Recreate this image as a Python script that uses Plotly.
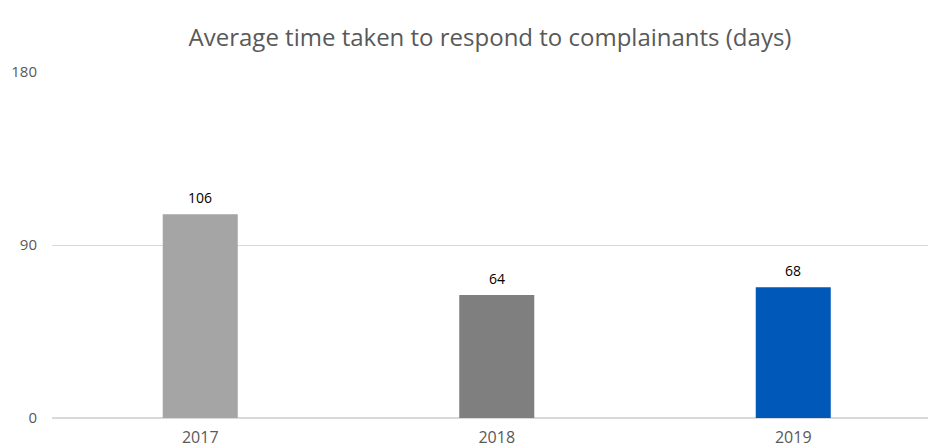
import plotly.graph_objects as go

years = ["2017", "2018", "2019"]
values = [106, 64, 68]
colors = ["#A5A5A5", "#7F7F7F", "#0059B8"]
y_ticks = [0, 90, 180]
title = "Average time taken to respond to complainants (days)"

FONT = "Open Sans, sans-serif"

fig = go.Figure(
    go.Bar(
        x=years,
        y=values,
        marker=dict(color=colors, line=dict(width=0)),
        width=0.253,
        hoverinfo="skip",
    )
)

for i, v in enumerate(values):
    fig.add_annotation(
        x=i,
        y=v,
        xref="x",
        yref="y",
        text=str(v),
        showarrow=False,
        yanchor="bottom",
        xanchor="center",
        yshift=5,
        font=dict(family=FONT, size=14, color="#000000"),
    )

fig.update_layout(
    width=928,
    height=448,
    margin=dict(l=52, r=0, t=72, b=30),
    paper_bgcolor="white",
    plot_bgcolor="white",
    showlegend=False,
    title=dict(
        text=title,
        x=0.5,
        xref="paper",
        xanchor="center",
        y=0.917,
        yanchor="middle",
        font=dict(family=FONT, size=24, color="#595959"),
    ),
    font=dict(family=FONT, size=14, color="#595959"),
)

fig.update_xaxes(
    type="category",
    range=[-0.5, -0.5 + 876 / 296.5],
    showgrid=False,
    showline=False,
    zeroline=False,
    ticks="",
    ticklabelstandoff=8,
    tickfont=dict(family=FONT, size=16, color="#595959"),
)

fig.update_yaxes(
    range=[0, 180],
    tickvals=y_ticks,
    showgrid=True,
    gridcolor="#D9D9D9",
    gridwidth=1,
    zeroline=True,
    zerolinecolor="#D9D9D9",
    zerolinewidth=1.5,
    showline=False,
    ticks="",
    ticklabelstandoff=14,
    tickfont=dict(family=FONT, size=15, color="#595959"),
)

fig.write_html(
    "out.html",
    config={"displayModeBar": False},
    post_script="document.body.style.margin='0';document.body.style.overflow='hidden';",
)
